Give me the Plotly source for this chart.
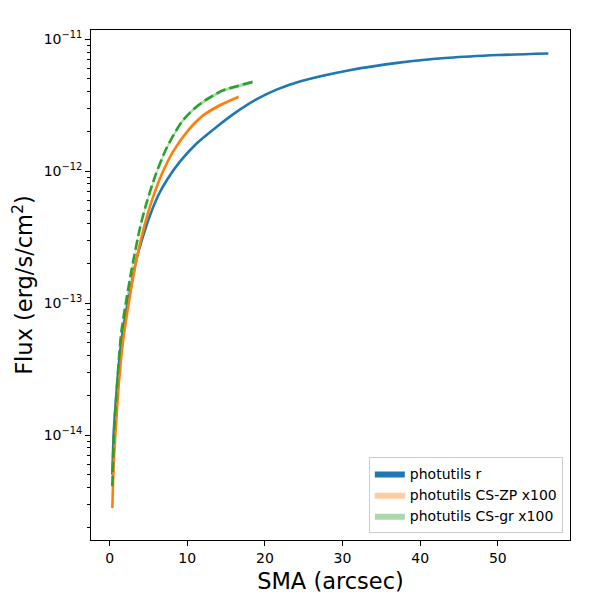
import numpy as np
import plotly.graph_objects as go

# photutils r
blue_sma = [0.35, 0.55, 0.86, 1.2, 1.7, 2.6, 3.5, 4.5, 5.3, 6.4, 7.5, 9.0, 11.2, 13.8, 16.3,
            18.9, 21.5, 24.6, 30.9, 37.3, 43.7, 50.1, 56.5]
blue_flux = [5.0e-15, 1.1e-14, 2.0e-14, 3.5e-14, 6.2e-14, 1.2e-13, 2.2e-13, 3.5e-13, 4.8e-13,
             6.8e-13, 8.8e-13, 1.17e-12, 1.62e-12, 2.17e-12, 2.8e-12, 3.5e-12, 4.15e-12, 4.8e-12,
             5.82e-12, 6.65e-12, 7.24e-12, 7.59e-12, 7.8e-12]
blue_err = [0.10, 0.06, 0.04, 0.03, 0.02, 0.015, 0.01, 0.01, 0.01, 0.01, 0.01, 0.01, 0.01, 0.01,
            0.01, 0.01, 0.01, 0.01, 0.01, 0.01, 0.01, 0.01, 0.01]

# photutils CS-ZP x100
orange_sma = [0.35, 0.55, 0.86, 1.2, 1.7, 2.6, 3.45, 4.5, 5.28, 6.65, 8.2, 10.3, 12.06, 14.2, 16.6]
orange_flux = [2.8e-15, 6.5e-15, 1.3e-14, 2.5e-14, 5.0e-14, 1.12e-13, 2.13e-13, 3.9e-13, 5.6e-13,
               9.3e-13, 1.42e-12, 2.1e-12, 2.65e-12, 3.16e-12, 3.66e-12]
orange_err = [0.15, 0.08, 0.05, 0.04, 0.03, 0.03, 0.03, 0.03, 0.03, 0.03, 0.03, 0.03, 0.03, 0.03, 0.03]

# photutils CS-gr x100
green_sma = [0.35, 0.55, 0.86, 1.2, 1.5, 2.2, 2.8, 3.9, 4.7, 5.9, 7.2, 8.1, 9.27, 10.8, 12.5,
             14.6, 16.5, 18.4]
green_flux = [4.1e-15, 1.0e-14, 2.0e-14, 3.8e-14, 6.0e-14, 1.1e-13, 1.75e-13, 3.7e-13, 5.6e-13,
              9.3e-13, 1.44e-12, 1.82e-12, 2.36e-12, 2.95e-12, 3.5e-12, 4.1e-12, 4.42e-12, 4.75e-12]
green_err = [0.08, 0.05, 0.04, 0.03, 0.03, 0.03, 0.03, 0.03, 0.03, 0.03, 0.03, 0.03, 0.03, 0.03,
             0.03, 0.03, 0.03, 0.03]

x_ticks = [0, 10, 20, 30, 40, 50]
y_major = [1e-14, 1e-13, 1e-12, 1e-11]
y_major_text = ['10<sup>\u221214</sup>', '10<sup>\u221213</sup>', '10<sup>\u221212</sup>', '10<sup>\u221211</sup>']

series = [
    ('photutils r', blue_sma, blue_flux, blue_err, '#1f77b4', 'rgba(31,119,180,1)', 'solid'),
    ('photutils CS-ZP x100', orange_sma, orange_flux, orange_err, '#ff7f0e', 'rgba(255,127,14,0.4)', 'solid'),
    ('photutils CS-gr x100', green_sma, green_flux, green_err, '#2ca02c', 'rgba(44,160,44,0.4)', '10px,4px'),
]

fig = go.Figure()

for name, sma, flux, err, color, fillc, dash in series:
    sma = np.array(sma)
    flux = np.array(flux)
    err = np.array(err)
    upper = flux * (1 + err)
    lower = flux * (1 - err)
    # error band
    fig.add_trace(go.Scatter(
        x=np.concatenate([sma, sma[::-1]]),
        y=np.concatenate([upper, lower[::-1]]),
        fill='toself', fillcolor=fillc, mode='lines', line=dict(width=0, color=fillc),
        name=name, showlegend=True, hoverinfo='skip'))
    fig.add_trace(go.Scatter(
        x=sma, y=flux, mode='lines', line=dict(color=color, width=2.6, dash=dash, smoothing=0.8),
        line_shape='spline', showlegend=False))

minor_vals = [m * 10.0 ** e for e in range(-16, -10) for m in range(2, 10)]

# page body has an 8px margin, so the figure is 592 and margins are shifted
fig.update_layout(
    width=592, height=592,
    paper_bgcolor='white', plot_bgcolor='white',
    margin=dict(l=83, r=30, t=22, b=60),
    font=dict(family='DejaVu Sans', color='black', size=14),
    legend=dict(x=0.985, y=0.014, xanchor='right', yanchor='bottom',
                bgcolor='rgba(255,255,255,0.8)', bordercolor='#cccccc', borderwidth=1,
                font=dict(size=14), tracegroupgap=0, itemwidth=30),
)

fig.update_xaxes(
    range=[-2.4, 59.3], tickvals=x_ticks, ticks='outside', ticklen=5, tickwidth=1,
    tickcolor='black', showline=True, linecolor='black', linewidth=1, mirror=True,
    showgrid=False, zeroline=False, automargin=False, tickfont=dict(size=14),
    title=dict(text='SMA (arcsec)', font=dict(size=22.5), standoff=8))

fig.update_yaxes(
    type='log', range=[-14.795, -10.93], tickvals=y_major, ticktext=y_major_text,
    ticks='outside', ticklen=5, tickwidth=1, tickcolor='black', tickfont=dict(size=14),
    minor=dict(tickvals=minor_vals, ticks='outside', ticklen=3, tickwidth=0.8, tickcolor='black'),
    showline=True, linecolor='black', linewidth=1, mirror=True,
    showgrid=False, zeroline=False, automargin=False,
    title=dict(text='Flux (erg/s/cm<sup>2</sup>)', font=dict(size=22.5), standoff=8))

fig.write_html("out.html")
